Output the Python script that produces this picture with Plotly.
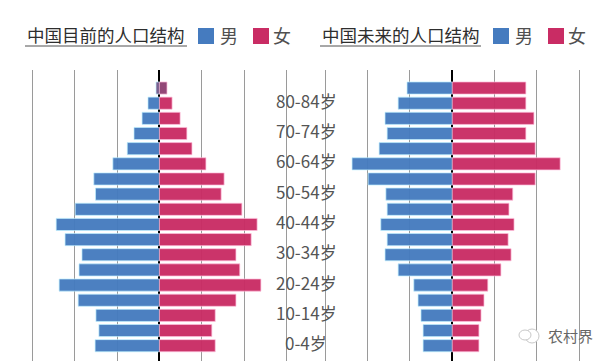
import plotly.graph_objects as go

ages = ["0-4岁","5-9岁","10-14岁","15-19岁","20-24岁","25-29岁","30-34岁","35-39岁","40-44岁",
        "45-49岁","50-54岁","55-59岁","60-64岁","65-69岁","70-74岁","75-79岁","80-84岁","85岁以上"]
now_male = [1.52,1.43,1.50,1.92,2.37,1.90,1.83,2.23,2.44,1.99,1.51,1.55,1.10,0.76,0.60,0.41,0.27,0.08]
now_female = [1.32,1.24,1.32,1.81,2.40,1.90,1.81,2.17,2.31,1.95,1.46,1.53,1.10,0.77,0.65,0.49,0.30,0.18]
future_male = [0.69,0.69,0.74,0.81,0.91,1.28,1.59,1.54,1.69,1.54,1.57,1.99,2.37,1.73,1.54,1.59,1.28,1.07]
future_female = [0.63,0.63,0.68,0.75,0.84,1.15,1.39,1.32,1.46,1.34,1.43,1.96,2.55,1.96,1.74,1.93,1.74,1.74]
titles = ["中国目前的人口结构", "中国未来的人口结构"]
legend_names = ["男", "女"]
grid_vals = [-3,-2,-1,0,1,2,3]

BLUE = "#457bbf"
PINK = "#c92c64"
FONT = "Noto Sans CJK SC, Noto Sans, sans-serif"
W, H = 611, 361

fig = go.Figure()
for xa, male, female in [("x", now_male, now_female), ("x2", future_male, future_female)]:
    is_now = xa == "x"
    male_col = [BLUE] * 17 + ["#775a8c" if is_now else BLUE]
    female_col = [PINK] * 17 + ["#8f4072" if is_now else PINK]
    fig.add_bar(y=ages, x=[-v for v in male], orientation="h", name="男", xaxis=xa,
                marker=dict(color=male_col, opacity=0.96, line=dict(color="rgba(190,240,255,0.7)", width=1)))
    fig.add_bar(y=ages, x=female, orientation="h", name="女", xaxis=xa,
                marker=dict(color=female_col, opacity=0.96, line=dict(color="rgba(255,190,220,0.7)", width=1)))

axis_common = dict(tickvals=grid_vals, showticklabels=False, ticks="", showgrid=True,
                   gridcolor="#9a9a9a", gridwidth=1, zeroline=True, zerolinecolor="#000000",
                   zerolinewidth=1.5, showline=False, fixedrange=True)
fig.update_layout(
    width=W, height=H, showlegend=False, barmode="relative", bargap=0.2,
    paper_bgcolor="white", plot_bgcolor="white",
    margin=dict(l=0, r=0, t=0, b=0, pad=0), font=dict(family=FONT, color="#444444"),
    xaxis=dict(domain=[0, 305/W], range=[-3.768, 3.442], **axis_common),
    xaxis2=dict(domain=[305/W, 1], range=[-3.482, 3.752], anchor="y", **axis_common),
    yaxis=dict(type="category", categoryorder="array", categoryarray=ages, range=[-1.01, 18.19],
               domain=[0, 1 - 70/H], showticklabels=False, ticks="", showgrid=False, zeroline=False,
               showline=False, fixedrange=True),
)

def px_x(p): return p / W
def px_y(p): return 1 - p / H

shapes = [
    # white strip behind the age labels hides the outer gridlines there
    dict(type="rect", xref="paper", yref="paper", x0=px_x(270), x1=px_x(340), y0=px_y(352), y1=px_y(92),
         fillcolor="white", line_width=0, layer="between"),
]
annotations = []
for title, tx, ux0, ux1, sq1, t1, sq2, t2 in [
    (titles[0], 106, 25, 187, 198, 229, 253, 282),
    (titles[1], 400.5, 320, 481, 493, 524, 548, 577),
]:
    annotations.append(dict(text=title, xref="paper", yref="paper", x=px_x(tx), y=px_y(35), showarrow=False,
                            xanchor="center", yanchor="middle", font=dict(size=17.5, color="#2e2e2e", family=FONT)))
    shapes.append(dict(type="line", xref="paper", yref="paper", x0=px_x(ux0), x1=px_x(ux1), y0=px_y(46), y1=px_y(46),
                       line=dict(color="#505050", width=1)))
    for sq, tt, col, nm in [(sq1, t1, BLUE, legend_names[0]), (sq2, t2, PINK, legend_names[1])]:
        shapes.append(dict(type="rect", xref="paper", yref="paper", x0=px_x(sq), x1=px_x(sq+16), y0=px_y(44), y1=px_y(28),
                           fillcolor=col, line_width=0))
        annotations.append(dict(text=nm, xref="paper", yref="paper", x=px_x(tt), y=px_y(35), showarrow=False,
                                xanchor="center", yanchor="middle", font=dict(size=18, color="#505050", family=FONT)))

for i, age in enumerate(ages):
    if i % 2 == 0 and i < 17:
        annotations.append(dict(text=age, xref="paper", yref="y", x=px_x(306), y=age, showarrow=False,
                                xanchor="center", yanchor="middle", yshift=3,
                                font=dict(size=17, color="#555555", family=FONT)))

annotations.append(dict(text="农村界", xref="paper", yref="paper", x=px_x(570), y=px_y(335), showarrow=False,
                        xanchor="center", yanchor="middle", font=dict(size=15, color="#666666", family=FONT)))
shapes += [
    dict(type="circle", xref="paper", yref="paper", x0=px_x(525), x1=px_x(539), y0=px_y(343), y1=px_y(329),
         fillcolor="white", line=dict(color="#c8c8c8", width=1)),
    dict(type="circle", xref="paper", yref="paper", x0=px_x(519), x1=px_x(531), y0=px_y(340), y1=px_y(330),
         fillcolor="white", line=dict(color="#c8c8c8", width=1)),
]
fig.update_layout(shapes=shapes, annotations=annotations)
fig.write_html("out.html", config=dict(displayModeBar=False),
               post_script="document.body.style.margin='0';")
